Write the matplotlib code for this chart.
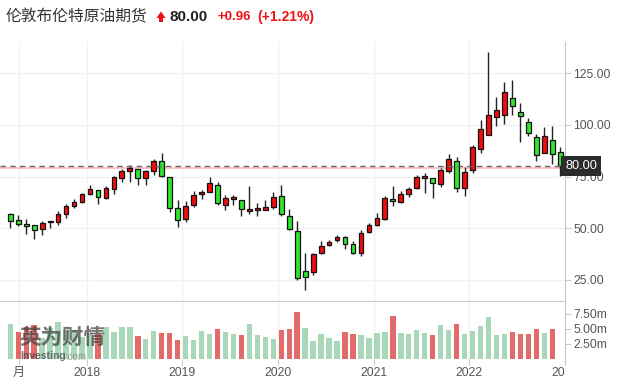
import matplotlib
matplotlib.use('Agg')
import matplotlib.pyplot as plt
from matplotlib.patches import Polygon
from matplotlib.transforms import Bbox, TransformedBbox, blended_transform_factory
import numpy as np

plt.rcParams['font.family'] = ['Liberation Sans', 'Noto Sans CJK SC', 'DejaVu Sans']

# monthly candles, red = up, green = down
opens = [56.9, 53.9, 51.9, 51.4, 49.5, 52.8, 53.1, 56.8, 60.7, 62.6,
         66.5, 68.4, 64.5, 68.9, 74.2, 77.6, 78.6, 74.2, 77.6, 82.4,
         74.7, 59.7, 54.4, 61.1, 66.5, 67.4, 70.8, 61.1, 64.0, 63.6,
         58.2, 58.7, 58.7, 60.2, 65.5, 55.8, 48.6, 29.2, 28.7, 37.9,
         41.8, 44.2, 45.7, 42.3, 37.9, 48.1, 51.5, 54.4, 64.0, 62.6,
         66.5, 69.4, 74.2, 74.2, 71.3, 77.6, 82.4, 69.4, 78.2, 88.2,
         95.3, 103.7, 104.7, 112.9, 106.1, 101.3, 94.0, 86.3, 92.6, 86.8]
highs = [57.6, 56.6, 54.7, 51.6, 53.4, 53.5, 58.5, 61.6, 64.0, 67.0,
         70.8, 68.4, 70.3, 75.5, 78.6, 80.5, 78.6, 78.1, 83.4, 86.4,
         74.7, 63.6, 63.1, 67.9, 68.4, 74.7, 72.3, 66.0, 66.0, 63.6,
         70.3, 62.1, 63.6, 67.4, 70.8, 59.2, 53.4, 37.9, 37.9, 43.7,
         44.2, 46.6, 46.1, 43.7, 49.0, 52.4, 57.3, 65.5, 70.3, 67.9,
         69.8, 75.7, 76.6, 74.2, 79.0, 85.8, 84.4, 79.5, 90.2, 102.3,
         135.2, 113.4, 120.6, 121.6, 110.5, 103.2, 95.5, 98.9, 99.4, 89.2]
lows = [50.0, 51.1, 47.3, 44.9, 46.8, 50.0, 51.8, 54.8, 59.7, 62.1,
        66.0, 61.6, 64.0, 66.5, 72.3, 72.3, 70.8, 70.8, 75.7, 74.7,
        57.8, 50.5, 52.9, 60.2, 64.0, 67.4, 61.1, 58.7, 61.1, 55.8,
        56.8, 55.8, 58.7, 59.2, 55.8, 49.3, 25.2, 20.0, 27.3, 37.4,
        41.3, 43.2, 39.9, 37.4, 36.5, 47.6, 51.0, 53.9, 60.7, 62.1,
        65.0, 68.9, 66.9, 64.5, 69.8, 76.9, 67.4, 65.5, 76.8, 86.3,
        95.0, 99.4, 100.3, 104.7, 91.6, 94.5, 82.4, 86.3, 81.0, 75.2]
closes = [53.4, 51.9, 50.9, 49.2, 52.4, 53.2, 56.8, 60.7, 62.6, 66.5,
          68.9, 65.0, 69.4, 74.7, 77.6, 79.0, 74.2, 77.6, 82.4, 75.2,
          59.7, 53.9, 60.7, 66.0, 67.4, 71.8, 62.1, 64.5, 65.0, 59.2,
          59.2, 59.7, 60.2, 65.0, 56.8, 49.5, 26.1, 26.3, 37.4, 41.3,
          43.2, 45.7, 42.3, 37.9, 47.6, 51.5, 54.9, 64.5, 63.1, 66.5,
          68.9, 74.7, 75.2, 71.8, 78.1, 83.4, 69.4, 77.1, 89.2, 97.9,
          104.7, 107.1, 115.8, 109.0, 104.2, 96.0, 85.3, 94.5, 85.8, 80.0]

# volume in millions (last month has no bar)
volumes = [5.87, 4.53, 5.37, 5.70, 3.5, 5.2, 6.2, 4.87, 4.87, 3.6,
           4.37, 4.2, 5.37, 4.53, 5.37, 5.37, 3.87, 3.37, 4.7, 4.37,
           4.37, 3.2, 3.87, 3.2, 4.7, 4.2, 5.03, 4.53, 4.2, 4.03,
           5.87, 4.03, 3.7, 3.37, 4.87, 5.03, 7.87, 5.2, 3.03, 4.2,
           3.53, 3.03, 4.53, 4.2, 4.03, 3.53, 4.37, 4.53, 7.2, 4.37,
           4.2, 4.87, 4.37, 4.03, 5.7, 4.87, 5.87, 4.2, 4.7, 5.53,
           7.03, 4.03, 4.2, 4.53, 4.2, 4.2, 5.03, 4.37, 5.03]
vol_dir = ['g', 'r', 'r', 'r', 'g', 'g', 'g', 'g', 'g', 'g',
           'g', 'r', 'g', 'g', 'g', 'g', 'r', 'g', 'g', 'r',
           'r', 'r', 'g', 'g', 'g', 'g', 'r', 'g', 'g', 'r',
           'g', 'g', 'g', 'g', 'r', 'r', 'r', 'g', 'g', 'g',
           'g', 'g', 'r', 'r', 'g', 'g', 'g', 'g', 'r', 'g',
           'g', 'g', 'g', 'r', 'g', 'g', 'r', 'g', 'g', 'g',
           'g', 'g', 'g', 'r', 'r', 'r', 'r', 'g', 'r']

tick_pos = [1.08, 9.58, 21.58, 33.58, 45.58, 57.58, 69.58]
tick_labels = ['月', '2018', '2019', '2020', '2021', '2022', '2023']

last_price = 80.00
prev_close = 79.04

W, H = 619, 387
def fx(px):
    return px / W
def fy(py):
    return 1 - py / H

fig = plt.figure(figsize=(W / 100, H / 100), dpi=100)
ax = fig.add_axes([0, fy(301), fx(565), fy(42) - fy(301)])
axv = fig.add_axes([0, fy(359), fx(565), fy(301.5) - fy(359)])

xlim = (-1.29, 69.6)
grid_c = '#f1f1f1'
line_c = '#c9c9c9'
text_c = '#555555'

# candles
x = np.arange(len(opens))
o = np.array(opens)
c = np.array(closes)
up = c >= o
body_col = np.where(up, '#f20d0d', '#2ee62e')
bottoms = np.minimum(o, c)
heights = np.maximum(np.abs(c - o), 0.5)
ax.vlines(x, lows, highs, color='#222222', lw=1.0, zorder=2)
ax.bar(x, heights, bottom=bottoms, width=0.6, color=body_col,
       edgecolor='#111111', linewidth=0.9, zorder=3)

ax.axhline(last_price, color='#666666', lw=1, ls=(0, (4, 3)), zorder=4)
ax.axhline(prev_close, color='#ffb8b8', lw=1.2, zorder=1)

ax.set_xlim(*xlim)
ax.set_ylim(14.8, 140.1)
ax.set_xticks(tick_pos)
ax.set_yticks([25, 50, 75, 100, 125])
ax.set_yticklabels(['%.2f' % v for v in [25, 50, 75, 100, 125]])
ax.yaxis.tick_right()
ax.tick_params(axis='y', length=4, color=line_c, labelcolor=text_c,
               labelsize=8.7, pad=2)
ax.tick_params(axis='x', length=0, labelbottom=False)
ax.grid(True, color=grid_c, lw=1)
ax.set_axisbelow(True)
for s in ['top', 'left']:
    ax.spines[s].set_visible(False)
ax.spines['right'].set_color(line_c)
ax.spines['bottom'].set_color(line_c)

tr = blended_transform_factory(ax.transAxes, ax.transData)
ax.text(1.0, last_price, '%.2f' % last_price, transform=tr, ha='left',
        va='center', color='white', fontsize=9.2, zorder=10,
        bbox=dict(boxstyle='square,pad=0.3', fc='#2b2b2b', ec='none'))

# volume
vcol = ['#e26a6a' if k == 'r' else '#a8d8b8' for k in vol_dir]
axv.bar(np.arange(len(volumes)), volumes, width=0.68, color=vcol, zorder=2)
axv.set_xlim(*xlim)
axv.set_ylim(0, 9.58)
axv.set_yticks([2.5, 5.0, 7.5])
axv.set_yticklabels(['2.50m', '5.00m', '7.50m'])
axv.yaxis.tick_right()
axv.tick_params(axis='y', length=4, color=line_c, labelcolor=text_c,
                labelsize=8.7, pad=2)
axv.set_xticks(tick_pos)
axv.set_xticklabels(tick_labels)
axv.tick_params(axis='x', length=4, color=line_c, labelcolor=text_c,
                labelsize=8.7, pad=2)
axv.grid(True, axis='x', color=grid_c, lw=1)
axv.set_axisbelow(True)
for s in ['top', 'left', 'bottom']:
    axv.spines[s].set_visible(False)
axv.spines['right'].set_color(line_c)

clip = TransformedBbox(Bbox([[0, 0], [fx(565), 1]]), fig.transFigure)
for lab in axv.get_xticklabels():
    lab.set_clip_box(clip)
    lab.set_clip_on(True)

# watermark
fig.text(fx(19), fy(337), '英为财情', fontsize=15.5, fontweight='bold',
         color='#444444', alpha=0.75, family=['Noto Sans CJK SC'],
         va='center', ha='left', zorder=20)
fig.text(fx(20), fy(356), 'Investing', fontsize=7.5, fontweight='bold',
         color='#444444', alpha=0.75, va='center', ha='left', zorder=20)
fig.text(fx(65), fy(356.5), '.com', fontsize=7, color='#666666', alpha=0.6,
         va='center', ha='left', zorder=20)

# header
fig.text(fx(6), fy(17), '伦敦布伦特原油期货', fontsize=11.3, color='#333333',
         family=['Noto Sans CJK SC'], va='center', ha='left')
arrow = Polygon([(fx(156.5), fy(18)), (fx(161), fy(11.5)), (fx(165.5), fy(18)),
                 (fx(163), fy(18)), (fx(163), fy(22)), (fx(159), fy(22)),
                 (fx(159), fy(18))], closed=True, transform=fig.transFigure,
                fc='#ee1111', ec='none')
fig.patches.append(arrow)
fig.text(fx(170), fy(17), '80.00', fontsize=11, fontweight='bold',
         color='#222222', va='center', ha='left')
fig.text(fx(217), fy(17), '+0.96', fontsize=9.5, fontweight='bold',
         color='#ee1111', va='center', ha='left')
fig.text(fx(257), fy(17), '(+1.21%)', fontsize=10, fontweight='bold',
         color='#ee1111', va='center', ha='left')

fig.savefig('out.png', dpi=100, facecolor='white')
